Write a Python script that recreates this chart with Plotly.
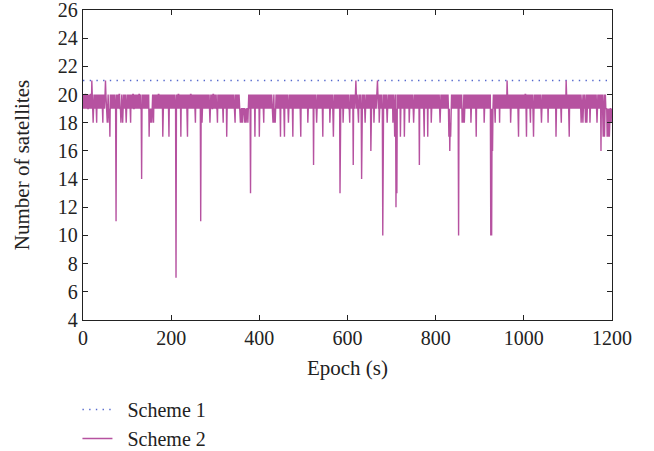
import plotly.graph_objects as go

# Number of satellites per epoch for Scheme 2.
# Code: '+'=21, '0'=20, '9'=19, '8'=18, '7'=17, '6'=16, '5'=15,
#       '4'=14, '3'=13, '2'=12, '1'=11, 'X'=10, 'S'=7
CODE = {'+': 21, '0': 20, '9': 19, '8': 18, '7': 17, '6': 16, '5': 15,
        '4': 14, '3': 13, '2': 12, '1': 11, 'X': 10, 'S': 7}

scheme2_rows = [
    ["0909900909", "0990909009", "+098909090", "9809090990", "9090980909",
     "0+09989098", "9709090909", "0909910909", "0900998909", "8909090989"],
    ["0909090980", "9090099090", "9090909009", "0994090909", "0909090990",
     "7989898909", "8090909090", "9009090909", "0790909090", "9090970909"],
    ["0909090909", "9S09090090", "9070909090", "9090909709", "0909009090",
     "9090980909", "0909090190", "8909090909", "0909090989", "0909900909"],
    ["0909980909", "0909090980", "9090907909", "0909090909", "0909980909",
     "0909099898", "9989999899", "8999890909", "3090909090", "7090909090"],
    ["7909090909", "8090909090", "9090909909", "9890898909", "0909090970",
     "9090909709", "0909098909", "0909097090", "9090990909", "0909709090"],
    ["9090909090", "8909090909", "0905090909", "8909090909", "0909709090",
     "9090909090", "8909090979", "0909090909", "0903909090", "8909090909"],
    ["0909980909", "090509090+", "0909980909", "0949090909", "8909090909",
     "0906909090", "89090900+0", "9089090909", "X909090909", "8909090909"],
    ["0908909790", "2930909090", "7909090907", "9090909090", "8909090909",
     "8909090909", "0905090909", "0909709090", "9070909090", "8909090909"],
    ["0909090909", "8909090909", "0909090909", "7968790909", "0909090909",
     "09X0909090", "8989089090", "9090909090", "8909090909", "0970909090"],
    ["9090909090", "8909090909", "09090X9X96", "9090980909", "0909080909",
     "0909090909", "09+0909090", "8909090909", "0909090970", "9090909090"],
    ["9090097090", "9090980909", "0979090909", "0909090909", "8909090909",
     "0909080909", "0909090909", "0907909090", "9090980909", "090909+090"],
    ["9097090909", "0909090909", "0909090909", "8909890909", "8908909090",
     "8909090909", "0909098909", "0909060909", "7907909997", "9799799989"],
]

scheme2_values = [CODE[c] for row in scheme2_rows for grp in row for c in grp]
epochs = list(range(len(scheme2_values)))

scheme1_epochs = [0, 1200]
scheme1_values = [21, 21]

x_ticks = [0, 200, 400, 600, 800, 1000, 1200]
y_ticks = [4, 6, 8, 10, 12, 14, 16, 18, 20, 22, 24, 26]

FONT = "Liberation Serif"
fig = go.Figure()
fig.add_trace(go.Scatter(
    x=scheme1_epochs, y=scheme1_values, mode="lines", name="\u00a0\u00a0Scheme 1",
    line=dict(color="rgb(85,105,205)", width=1.4, dash="1.4px,5.3px")))
fig.add_trace(go.Scatter(
    x=epochs, y=scheme2_values, mode="lines", name="\u00a0\u00a0Scheme 2",
    line=dict(color="rgb(182,82,160)", width=1.4)))

axis_common = dict(showline=True, linecolor="#222", linewidth=1.3, mirror="ticks",
                   ticks="inside", ticklen=5, tickwidth=1.2, tickcolor="#222",
                   showgrid=False, zeroline=False, automargin=False,
                   ticklabeloverflow="allow",
                   tickfont=dict(family=FONT, size=20, color="#222"))

fig.update_layout(
    width=654, height=451,
    margin=dict(l=83, r=42, t=10, b=131, autoexpand=False),
    paper_bgcolor="white", plot_bgcolor="white",
    font=dict(family=FONT, size=20, color="#222"),
    showlegend=True,
    legend=dict(x=-0.0105, y=-0.2258, xanchor="left", yanchor="top",
                orientation="v", font=dict(family=FONT, size=20, color="#222"),
                bgcolor="rgba(0,0,0,0)", tracegroupgap=0, itemwidth=30),
    xaxis=dict(range=[0, 1200], tickvals=x_ticks,
               title=dict(text="Epoch (s)", font=dict(family=FONT, size=21), standoff=12),
               **axis_common),
    yaxis=dict(range=[4, 26], tickvals=y_ticks,
               title=dict(text="Number of satellites", font=dict(family=FONT, size=21), standoff=22),
               **axis_common),
)

fig.write_html("out.html", config={"displayModeBar": False},
               post_script="document.body.style.margin='0';document.body.style.overflow='hidden';")
